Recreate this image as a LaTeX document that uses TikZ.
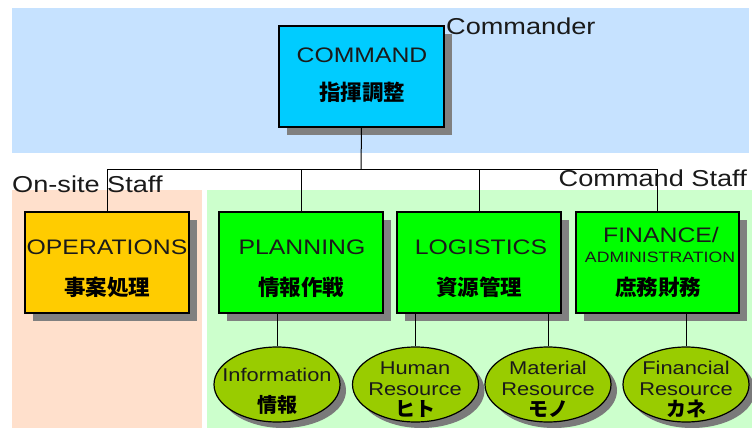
\documentclass[tikz,border=0pt]{standalone}
\usepackage{fontspec}
\setmainfont{Liberation Sans}[FakeStretch=1.18]
\newfontfamily\jp{Noto Sans CJK JP}
\usetikzlibrary{shapes.geometric,shadows}
\definecolor{bluebg}{HTML}{C6E2FF}
\definecolor{peachbg}{HTML}{FFE0CC}
\definecolor{greenbg}{HTML}{CCFFCC}
\definecolor{cmdc}{HTML}{00CCFF}
\definecolor{opsc}{HTML}{FFCC00}
\definecolor{staffc}{HTML}{00FF00}
\definecolor{ellc}{HTML}{99CC00}
\definecolor{shadc}{HTML}{808080}
\definecolor{ellshad}{HTML}{7A7A7A}
\definecolor{txt}{HTML}{1A1A1A}
\begin{document}
\begin{tikzpicture}[x=1pt,y=-1pt,
  box/.style={draw=black,line width=1.4pt,minimum width=164pt,minimum height=101pt,inner sep=0pt,
    drop shadow={shadow xshift=8pt,shadow yshift=-8pt,fill=shadc,opacity=1}},
  ell/.style={ellipse,draw=black,line width=1.2pt,fill=ellc,minimum width=126pt,minimum height=75pt,inner sep=0pt,
    drop shadow={shadow xshift=6pt,shadow yshift=-6pt,fill=ellshad,opacity=1}},
  lat/.style={font=\fontsize{21}{24}\selectfont,text=txt,inner sep=0pt},
  small/.style={font=\fontsize{15}{17}\selectfont,text=txt,inner sep=0pt},
  ltxt/.style={font=\fontsize{18.5}{20}\selectfont,text=txt,inner sep=0pt},
  region/.style={font=\fontsize{23}{26}\selectfont,text=txt,inner sep=0pt},
  jpt/.style={font=\jp\bfseries\fontsize{21.5}{23}\selectfont,text=black,inner sep=0pt},
  jps/.style={font=\jp\bfseries\fontsize{20}{22}\selectfont,text=black,inner sep=0pt},
  conn/.style={draw=black,line width=1pt}]
\useasboundingbox (0,0) rectangle (752,428);
% background regions
\fill[bluebg] (12,8) rectangle (749,153);
\fill[peachbg] (12,190) rectangle (202,428);
\fill[greenbg] (207,190) rectangle (752,428);
% boxes
\node[box,fill=cmdc,minimum width=165pt] (cmd) at (361.5,76.5) {};
\node[box,fill=opsc] (ops) at (107,262.5) {};
\node[box,fill=staffc] (plan) at (301,262.5) {};
\node[box,fill=staffc] (log) at (479,262.5) {};
\node[box,fill=staffc,minimum width=163pt] (fin) at (657.5,262.5) {};
% ellipses
\node[ell] (inf) at (277,384.5) {};
\node[ell] (hum) at (415.5,384.5) {};
\node[ell] (mat) at (548,384.5) {};
\node[ell] (fnc) at (686,384.5) {};
% connectors
\coordinate (bus) at (361,169);
\draw[conn] (cmd.south) -- (bus);
\draw[conn] (bus) -| (ops.north);
\draw[conn] (bus) -| (plan.north);
\draw[conn] (bus) -| (log.north);
\draw[conn] (bus) -| (fin.north);
\draw[conn] (inf.north) -- (inf.north |- plan.south);
\draw[conn] (hum.north) -- (hum.north |- log.south);
\draw[conn] (mat.north) -- (mat.north |- log.south);
\draw[conn] (fnc.north) -- (fnc.north |- fin.south);
% region labels
\node[region,anchor=base west] (lcmdr) at (446,35) {Commander};
\node[region,anchor=base west] (lonsite) at (12,192) {On-site Staff};
\node[region,anchor=base east] (lcstaff) at (747,186) {Command Staff};
% box texts
\node[lat] (t1) at (362,55) {COMMAND};
\node[jpt] (j1) at (362,92) {指揮調整};
\node[lat] (t2) at (107,247) {OPERATIONS};
\node[jpt] (j2) at (107,287) {事案処理};
\node[lat] (t3) at (302,247) {PLANNING};
\node[jpt] (j3) at (301,287) {情報作戦};
\node[lat] (t4) at (481,247) {LOGISTICS};
\node[jpt] (j4) at (479,287) {資源管理};
\node[lat] (t5) at (661,235) {FINANCE/};
\node[small] (t5b) at (660,257) {ADMINISTRATION};
\node[jpt] (j5) at (658,287) {庶務財務};
% ellipse texts
\node[ltxt] (e1) at (277,375) {Information};
\node[jps] (k1) at (277,405) {情報};
\node[ltxt] (e2) at (415,368) {Human};
\node[ltxt] (e2b) at (415,389) {Resource};
\node[jps] (k2) at (415,409) {ヒト};
\node[ltxt] (e3) at (548,368) {Material};
\node[ltxt] (e3b) at (548,389) {Resource};
\node[jps] (k3) at (548,409) {モノ};
\node[ltxt] (e4) at (686,368) {Financial};
\node[ltxt] (e4b) at (686,389) {Resource};
\node[jps] (k4) at (686,409) {カネ};
\end{tikzpicture}
\end{document}
